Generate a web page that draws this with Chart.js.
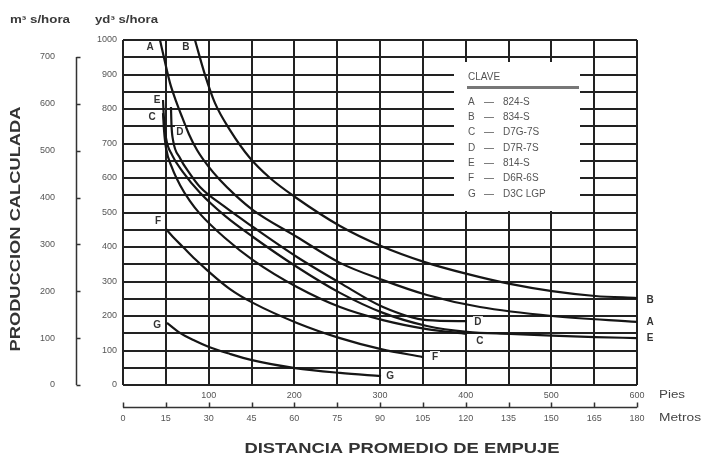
<!DOCTYPE html>
<html lang="es">
<head>
<meta charset="utf-8">
<title>Producción calculada – distancia promedio de empuje</title>
<script src="https://cdn.jsdelivr.net/npm/chart.js@4/dist/chart.umd.min.js"></script>
<style>
  html, body { margin: 0; padding: 0; background: #fff; }
  #wrap { position: relative; width: 701px; height: 459px; }
  canvas { display: block; }
</style>
</head>
<body>
<div id="wrap"><canvas id="grafico" width="701" height="459"></canvas></div>
<script>
// Curvas de producción: [distancia de empuje en pies, producción en yd³ sueltas por hora]
const curvaA = [[43.2,1000],[49,936],[54.9,875],[61.9,823],[68.9,777],[77,727],[86.4,681],[99.2,635],[113.2,594],[130.7,551],[151.7,507],[203.1,429],[253.3,354],[303.5,304],[354.8,261],[416.7,226],[500.8,200],[600,183]];
const curvaB = [[84,1000],[95.7,899],[107.4,817],[124.9,739],[148.2,658],[171.6,600],[200.8,545],[253.3,461],[301.2,403],[351.3,357],[401.5,322],[451.7,293],[500.8,272],[551,258],[600,252]];
const curvaC = [[46.7,788],[47.9,739],[50.2,687],[57.2,630],[66.5,580],[78.2,533],[89.9,496],[119.1,426],[151.7,362],[203.1,284],[253.3,226],[303.5,188],[354.8,162],[401.5,148]];
const curvaD = [[56,806],[56.6,754],[58.4,710],[66.5,658],[78.2,612],[89.9,574],[119,516],[151.7,458],[203.1,371],[253.3,296],[303.5,226],[354.8,188],[401.5,185]];
const curvaE = [[46.7,826],[47.9,768],[50.2,716],[57.2,667],[70,617],[89.9,557],[119.1,490],[151.8,429],[203.1,342],[253.3,267],[303.5,209],[354.8,171],[401.5,154],[451.7,148],[500.8,143],[551,139],[600,136]];
const curvaF = [[50.2,452],[60.7,423],[70,400],[84,365],[98.1,333],[124.9,278],[151.7,238],[203.1,180],[253.3,136],[301.2,104],[350.2,81]];
const curvaG = [[51.4,180],[66.5,151],[84,128],[100.4,110],[124.9,90],[150.6,72],[200.8,49],[253.3,35],[301.2,26]];

// Clave de máquinas
const claveLetras = ['A','B','C','D','E','F','G'];
const claveModelos = ['824-S','834-S','D7G-7S','D7R-7S','814-S','D6R-6S','D3C LGP'];

// Etiquetas de los ejes
const piesEtiquetas = [100,200,300,400,500,600];
const metrosEtiquetas = [0,15,30,45,60,75,90,105,120,135,150,165,180];
const yd3Etiquetas = [0,100,200,300,400,500,600,700,800,900,1000];
const m3Etiquetas = [0,100,200,300,400,500,600,700];

const curvas = [curvaA, curvaB, curvaC, curvaD, curvaE, curvaF, curvaG];

// Desplazamiento (px) de la letra de cada curva respecto a su primer y último punto
const letraInicio = { A:[-10,7], B:[-9,7], C:[-11,4], D:[9,25], E:[-6,0], F:[-8,-8], G:[-10,2] };
const letraFin    = { A:[13,0], B:[13,2], C:[13,7], D:[11,1], E:[13,0], F:[12,0], G:[9,0] };

const FAMILIA = '"Liberation Sans", Arial, Helvetica, sans-serif';
const GRIS_TEXTO = '#555';
const NEGRO = '#161616';

function textoAjustado(ctx, texto, x, y, fuente, ancho, align, rot) {
  ctx.save();
  ctx.font = fuente;
  const m = ctx.measureText(texto).width;
  ctx.translate(x, y);
  if (rot) ctx.rotate(rot);
  const k = ancho ? ancho / m : 1;
  ctx.scale(k, 1);
  ctx.textBaseline = 'middle';
  ctx.textAlign = align || 'left';
  ctx.fillText(texto, 0, 0);
  ctx.restore();
}

const decoracion = {
  id: 'decoracion',
  afterDraw(chart) {
    const ctx = chart.ctx;
    const sx = chart.scales.x, sy = chart.scales.y;
    const sx2 = chart.scales.x2, sm = chart.scales.ym;

    // Eje en metros: línea con marcas hacia arriba
    ctx.save();
    ctx.strokeStyle = '#333';
    ctx.lineWidth = 1.5;
    const yM = sx2.top + 0.5;
    ctx.beginPath();
    ctx.moveTo(sx2.left, yM); ctx.lineTo(sx2.right, yM);
    sx2.ticks.forEach(t => {
      const px = Math.round(sx2.getPixelForValue(t.value)) + 0.5;
      ctx.moveTo(px, yM); ctx.lineTo(px, yM - 5);
    });
    ctx.stroke();

    // Eje en m³: línea vertical con marcas hacia la derecha
    const xM = sm.right + 0.5;
    ctx.beginPath();
    ctx.moveTo(xM, sm.getPixelForValue(m3Etiquetas[m3Etiquetas.length - 1]));
    ctx.lineTo(xM, sm.getPixelForValue(0));
    sm.ticks.forEach(t => {
      const py = Math.round(sm.getPixelForValue(t.value)) + 0.5;
      ctx.moveTo(xM, py); ctx.lineTo(xM + 4, py);
    });
    ctx.stroke();
    ctx.restore();

    // Letras de cada curva, con fondo blanco
    ctx.save();
    ctx.font = 'bold 10px ' + FAMILIA;
    ctx.textAlign = 'center';
    ctx.textBaseline = 'middle';
    curvas.forEach((c, i) => {
      const letra = claveLetras[i];
      const p0 = c[0], p1 = c[c.length - 1];
      [[p0, letraInicio[letra]], [p1, letraFin[letra]]].forEach(([p, d]) => {
        const px = sx.getPixelForValue(p[0]) + d[0];
        const py = sy.getPixelForValue(p[1]) + d[1];
        ctx.fillStyle = '#fff';
        ctx.fillRect(px - 5, py - 6, 10, 12);
        ctx.fillStyle = '#333';
        ctx.fillText(letra, px, py + 0.5);
      });
    });
    ctx.restore();

    // Recuadro CLAVE
    ctx.save();
    ctx.fillStyle = '#fff';
    ctx.fillRect(454, 62, 126, 149);
    ctx.fillStyle = GRIS_TEXTO;
    ctx.font = '10px ' + FAMILIA;
    ctx.textBaseline = 'middle';
    ctx.fillText('CLAVE', 468, 77);
    ctx.fillStyle = '#777';
    ctx.fillRect(467, 86, 112, 3);
    claveLetras.forEach((l, i) => {
      const y = 102 + i * 15.3;
      ctx.fillStyle = GRIS_TEXTO;
      ctx.fillText(l, 468, y);
      ctx.fillText('—', 484, y);
      ctx.fillText(claveModelos[i], 503, y);
    });
    ctx.restore();

    // Títulos y unidades
    ctx.save();
    ctx.fillStyle = '#3a3a3a';
    textoAjustado(ctx, 'm³ s/hora', 10, 20, 'bold 10px ' + FAMILIA, 60, 'left');
    textoAjustado(ctx, 'yd³ s/hora', 95, 20, 'bold 10px ' + FAMILIA, 63, 'left');
    ctx.fillStyle = '#333';
    textoAjustado(ctx, 'PRODUCCION CALCULADA', 16, 229, 'bold 15px ' + FAMILIA, 245, 'center', -Math.PI / 2);
    textoAjustado(ctx, 'DISTANCIA PROMEDIO DE EMPUJE', 402, 449, 'bold 15px ' + FAMILIA, 315, 'center');
    ctx.fillStyle = '#444';
    textoAjustado(ctx, 'Pies', sx.right + 22, 395, '10px ' + FAMILIA, 26, 'left');
    textoAjustado(ctx, 'Metros', sx.right + 22, 418, '10px ' + FAMILIA, 42, 'left');
    ctx.restore();
  }
};

const fuenteTicks = { family: FAMILIA, size: 9 };

new Chart(document.getElementById('grafico'), {
  type: 'scatter',
  data: {
    datasets: curvas.map((c, i) => ({
      label: claveLetras[i] + ' — ' + claveModelos[i],
      data: c.map(p => ({ x: p[0], y: p[1] })),
      showLine: true,
      borderColor: NEGRO,
      borderWidth: 2.2,
      pointRadius: 0,
      fill: false,
      cubicInterpolationMode: 'monotone'
    }))
  },
  options: {
    responsive: false,
    animation: false,
    devicePixelRatio: 1,
    layout: { padding: { left: 0, top: 40, right: 64, bottom: 32 } },
    plugins: { legend: { display: false }, tooltip: { enabled: false } },
    scales: {
      x: {
        type: 'linear', position: 'bottom', min: 0, max: 600, weight: 0,
        ticks: { stepSize: 50, autoSkip: false, maxRotation: 0, padding: 5, color: GRIS_TEXTO, font: fuenteTicks,
                 callback: v => piesEtiquetas.includes(v) ? String(v) : '' },
        grid: { color: '#222', lineWidth: 2, drawTicks: false },
        border: { display: false },
        afterFit: s => { s.height = 22; }
      },
      x2: {
        type: 'linear', position: 'bottom', min: 0, max: 180, weight: 1,
        ticks: { stepSize: 15, autoSkip: false, maxRotation: 0, padding: -2, color: GRIS_TEXTO, font: fuenteTicks,
                 callback: v => metrosEtiquetas.includes(v) ? String(v) : '' },
        grid: { display: false },
        border: { display: false },
        afterFit: s => { s.height = 20; }
      },
      y: {
        type: 'linear', position: 'left', min: 0, max: 1000, weight: 0,
        ticks: { stepSize: 50, autoSkip: false, padding: 6, color: GRIS_TEXTO, font: fuenteTicks,
                 callback: v => yd3Etiquetas.includes(v) ? String(v) : '' },
        grid: { color: '#222', lineWidth: 2, drawTicks: false },
        border: { display: false },
        afterFit: s => { s.width = 47; }
      },
      ym: {
        type: 'linear', position: 'left', min: 0, max: 736, weight: 1,
        ticks: { stepSize: 100, includeBounds: false, autoSkip: false, padding: 13, color: GRIS_TEXTO, font: fuenteTicks,
                 callback: v => m3Etiquetas.includes(v) ? String(v) : '' },
        grid: { display: false },
        border: { display: false },
        afterFit: s => { s.width = 76; }
      }
    }
  },
  plugins: [decoracion]
});
</script>
</body>
</html>
